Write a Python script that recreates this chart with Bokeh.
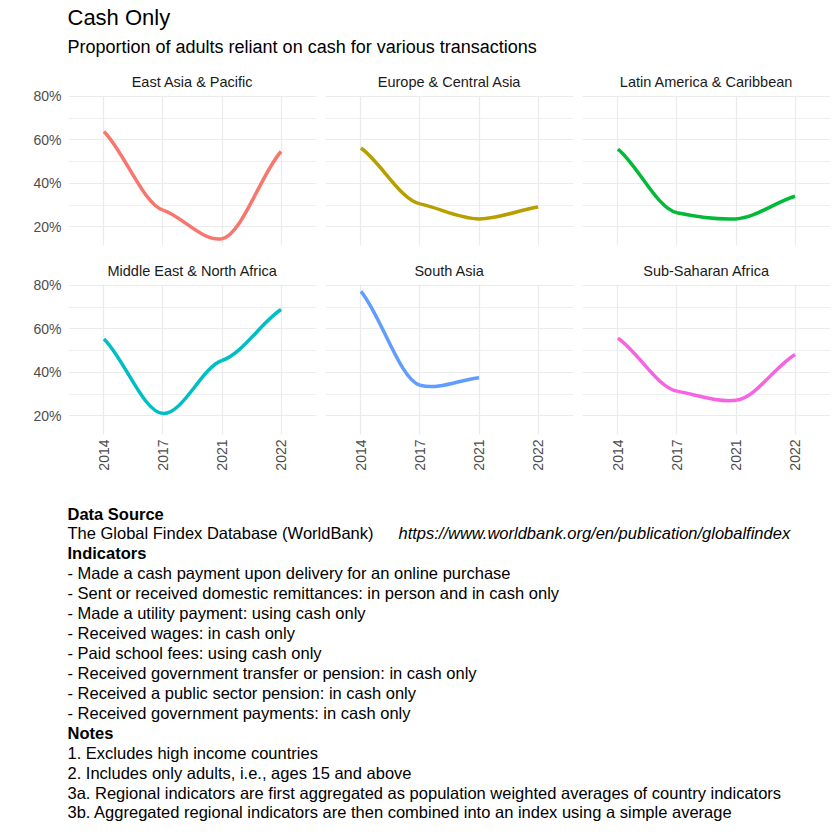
import numpy as np
from bokeh.plotting import figure
from bokeh.layouts import column, row
from bokeh.models import Range1d, FixedTicker
from bokeh.embed import file_html
from bokeh.resources import INLINE
from bokeh.core.properties import value

TITLE = "Cash Only"
SUBTITLE = "Proportion of adults reliant on cash for various transactions"
YEARS = ["2014", "2017", "2021", "2022"]
REGIONS = ["East Asia & Pacific", "Europe & Central Asia", "Latin America & Caribbean",
           "Middle East & North Africa", "South Asia", "Sub-Saharan Africa"]
EAST_ASIA_PACIFIC = [63.9, 27.7, 14.6, 54.7]
EUROPE_CENTRAL_ASIA = [56.3, 30.6, 23.7, 29.2]
LATIN_AMERICA_CARIBBEAN = [55.8, 26.5, 23.7, 34.1]
MIDDLE_EAST_NORTH_AFRICA = [55.4, 21.1, 45.5, 68.9]
SOUTH_ASIA = [77.3, 34.1, 37.6]
SUB_SAHARAN_AFRICA = [55.7, 31.4, 27.2, 48.3]
SERIES = [EAST_ASIA_PACIFIC, EUROPE_CENTRAL_ASIA, LATIN_AMERICA_CARIBBEAN,
          MIDDLE_EAST_NORTH_AFRICA, SOUTH_ASIA, SUB_SAHARAN_AFRICA]
COLORS = ["#F8766D", "#B79F00", "#00BA38", "#00BFC4", "#619CFF", "#F564E3"]
Y_TICKS = [20, 40, 60, 80]
Y_MINOR = [30, 50, 70]
Y_TICK_LABELS = ["20%", "40%", "60%", "80%"]

SOURCE_HEAD = "Data Source"
SOURCE_TEXT = "The Global Findex Database (WorldBank)"
SOURCE_URL = "https://www.worldbank.org/en/publication/globalfindex"
INDICATORS_HEAD = "Indicators"
INDICATORS = [
    "- Made a cash payment upon delivery for an online purchase",
    "- Sent or received domestic remittances: in person and in cash only",
    "- Made a utility payment: using cash only",
    "- Received wages: in cash only",
    "- Paid school fees: using cash only",
    "- Received government transfer or pension: in cash only",
    "- Received a public sector pension: in cash only",
    "- Received government payments: in cash only",
]
NOTES_HEAD = "Notes"
NOTES = [
    "1. Excludes high income countries",
    "2. Includes only adults, i.e., ages 15 and above",
    "3a. Regional indicators are first aggregated as population weighted averages of country indicators",
    "3b. Aggregated regional indicators are then combined into an index using a simple average",
]

FONT = value("Liberation Sans")
GRID = "#EBEBEB"


def hermite_segments(xs, ys, t_in=0.35, t_end=0.75):
    n = len(xs)
    m = []
    for i in range(n):
        if i == 0:
            s = t_end * (ys[1] - ys[0]) / (xs[1] - xs[0])
        elif i == n - 1:
            s = t_end * (ys[-1] - ys[-2]) / (xs[-1] - xs[-2])
        else:
            s = t_in * (ys[i + 1] - ys[i - 1]) / (xs[i + 1] - xs[i - 1])
        m.append(s)
    seg = dict(x0=[], y0=[], x1=[], y1=[], cx0=[], cy0=[], cx1=[], cy1=[])
    for i in range(n - 1):
        dx = xs[i + 1] - xs[i]
        seg["x0"].append(xs[i]); seg["y0"].append(ys[i])
        seg["x1"].append(xs[i + 1]); seg["y1"].append(ys[i + 1])
        seg["cx0"].append(xs[i] + dx / 3); seg["cy0"].append(ys[i] + m[i] * dx / 3)
        seg["cx1"].append(xs[i + 1] - dx / 3); seg["cy1"].append(ys[i + 1] - m[i + 1] * dx / 3)
    return seg


all_vals = [v for s in SERIES for v in s]
lo, hi = min(all_vals), max(all_vals)
span = hi - lo
Y_LO, Y_HI = lo - 0.05 * span, hi + 0.05 * span
X_POS = list(range(1, len(YEARS) + 1))

BORDERS_LR = [(68, 4), (5, 4), (5, 1)]
BORDERS_TB = [(32, 9), (30, 50)]

panels = []
for idx, (name, vals, color) in enumerate(zip(REGIONS, SERIES, COLORS)):
    c, r = idx % 3, idx // 3
    p = figure(frame_width=248, frame_height=150,
               x_range=Range1d(0.4, len(YEARS) + 0.6), y_range=Range1d(Y_LO, Y_HI),
               output_backend="svg", toolbar_location=None, title=name,
               min_border_left=BORDERS_LR[c][0], min_border_right=BORDERS_LR[c][1],
               min_border_top=BORDERS_TB[r][0], min_border_bottom=BORDERS_TB[r][1])
    p.outline_line_color = None
    p.background_fill_color = "white"
    p.border_fill_color = "white"
    p.title.align = "center"
    p.title.text_font = "Liberation Sans"
    p.title.text_font_size = "14.5px"
    p.title.text_font_style = "normal"
    p.title.text_color = "#1A1A1A"
    p.title.standoff = 11

    p.xaxis.ticker = FixedTicker(ticks=X_POS)
    p.yaxis.ticker = FixedTicker(ticks=Y_TICKS, minor_ticks=Y_MINOR)
    p.xgrid.ticker = FixedTicker(ticks=X_POS)
    p.ygrid.ticker = FixedTicker(ticks=Y_TICKS, minor_ticks=Y_MINOR)
    p.xgrid.grid_line_color = GRID
    p.ygrid.grid_line_color = GRID
    p.xgrid.grid_line_width = 1.2
    p.ygrid.grid_line_width = 1.2
    p.ygrid.minor_grid_line_color = GRID
    p.ygrid.minor_grid_line_width = 0.8

    for ax in (p.xaxis[0], p.yaxis[0]):
        ax.axis_line_color = None
        ax.major_tick_line_color = None
        ax.minor_tick_line_color = None
        ax.major_tick_out = 0
        ax.major_tick_in = 0
        ax.minor_tick_out = 0
        ax.minor_tick_in = 0
        ax.major_label_text_font = "Liberation Sans"
        ax.major_label_text_font_size = "14px"
        ax.major_label_text_color = "#4D4D4D"
    p.xaxis.major_label_overrides = {x: y for x, y in zip(X_POS, YEARS)}
    p.yaxis.major_label_overrides = {t: l for t, l in zip(Y_TICKS, Y_TICK_LABELS)}
    p.xaxis.major_label_orientation = np.pi / 2
    p.xaxis.major_label_standoff = 5
    p.yaxis.major_label_standoff = 7
    if r == 0:
        p.xaxis.visible = False
    if c != 0:
        p.yaxis.visible = False

    seg = hermite_segments(X_POS[:len(vals)], vals)
    p.bezier(x0=seg["x0"], y0=seg["y0"], x1=seg["x1"], y1=seg["y1"],
             cx0=seg["cx0"], cy0=seg["cy0"], cx1=seg["cx1"], cy1=seg["cy1"],
             line_color=color, line_width=3.5)
    panels.append(p)


def text_fig(w, h):
    f = figure(frame_width=w, frame_height=h, x_range=Range1d(0, w), y_range=Range1d(h, 0),
               x_axis_type=None, y_axis_type=None, output_backend="svg", toolbar_location=None,
               min_border=0)
    f.outline_line_color = None
    f.grid.visible = False
    f.border_fill_color = "white"
    return f


TEXT_X = 67
header = text_fig(831, 63)
header.text(x=[TEXT_X], y=[17], text=[TITLE], text_font=FONT, text_font_size="22px",
            text_baseline="middle", text_color="black")
header.text(x=[TEXT_X], y=[46], text=[SUBTITLE], text_font=FONT, text_font_size="18px",
            text_baseline="middle", text_color="black")

FOOT_H = 347
footer = text_fig(831, FOOT_H)
LINE_H = 19.93
Y0 = 29
plain_lines = []
bold_lines = []
line_no = 0
bold_lines.append((line_no, SOURCE_HEAD)); line_no += 1
source_line = line_no; line_no += 1
bold_lines.append((line_no, INDICATORS_HEAD)); line_no += 1
for s in INDICATORS:
    plain_lines.append((line_no, s)); line_no += 1
bold_lines.append((line_no, NOTES_HEAD)); line_no += 1
for s in NOTES:
    plain_lines.append((line_no, s)); line_no += 1

FOOT_SIZE = "16.5px"
footer.text(x=[TEXT_X] * len(bold_lines), y=[Y0 + i * LINE_H for i, _ in bold_lines],
            text=[s for _, s in bold_lines], text_font=FONT, text_font_size=FOOT_SIZE,
            text_font_style="bold", text_baseline="middle", text_color="black")
footer.text(x=[TEXT_X] * (len(plain_lines) + 1),
            y=[Y0 + source_line * LINE_H] + [Y0 + i * LINE_H for i, _ in plain_lines],
            text=[SOURCE_TEXT] + [s for _, s in plain_lines], text_font=FONT,
            text_font_size=FOOT_SIZE, text_baseline="middle", text_color="black")
footer.text(x=[398], y=[Y0 + source_line * LINE_H], text=[SOURCE_URL], text_font=FONT,
            text_font_size=FOOT_SIZE, text_font_style="italic", text_baseline="middle",
            text_color="black")

layout = column(header, row(*panels[:3]), row(*panels[3:]), footer)
open("out.html", "w").write(file_html(layout, INLINE))
